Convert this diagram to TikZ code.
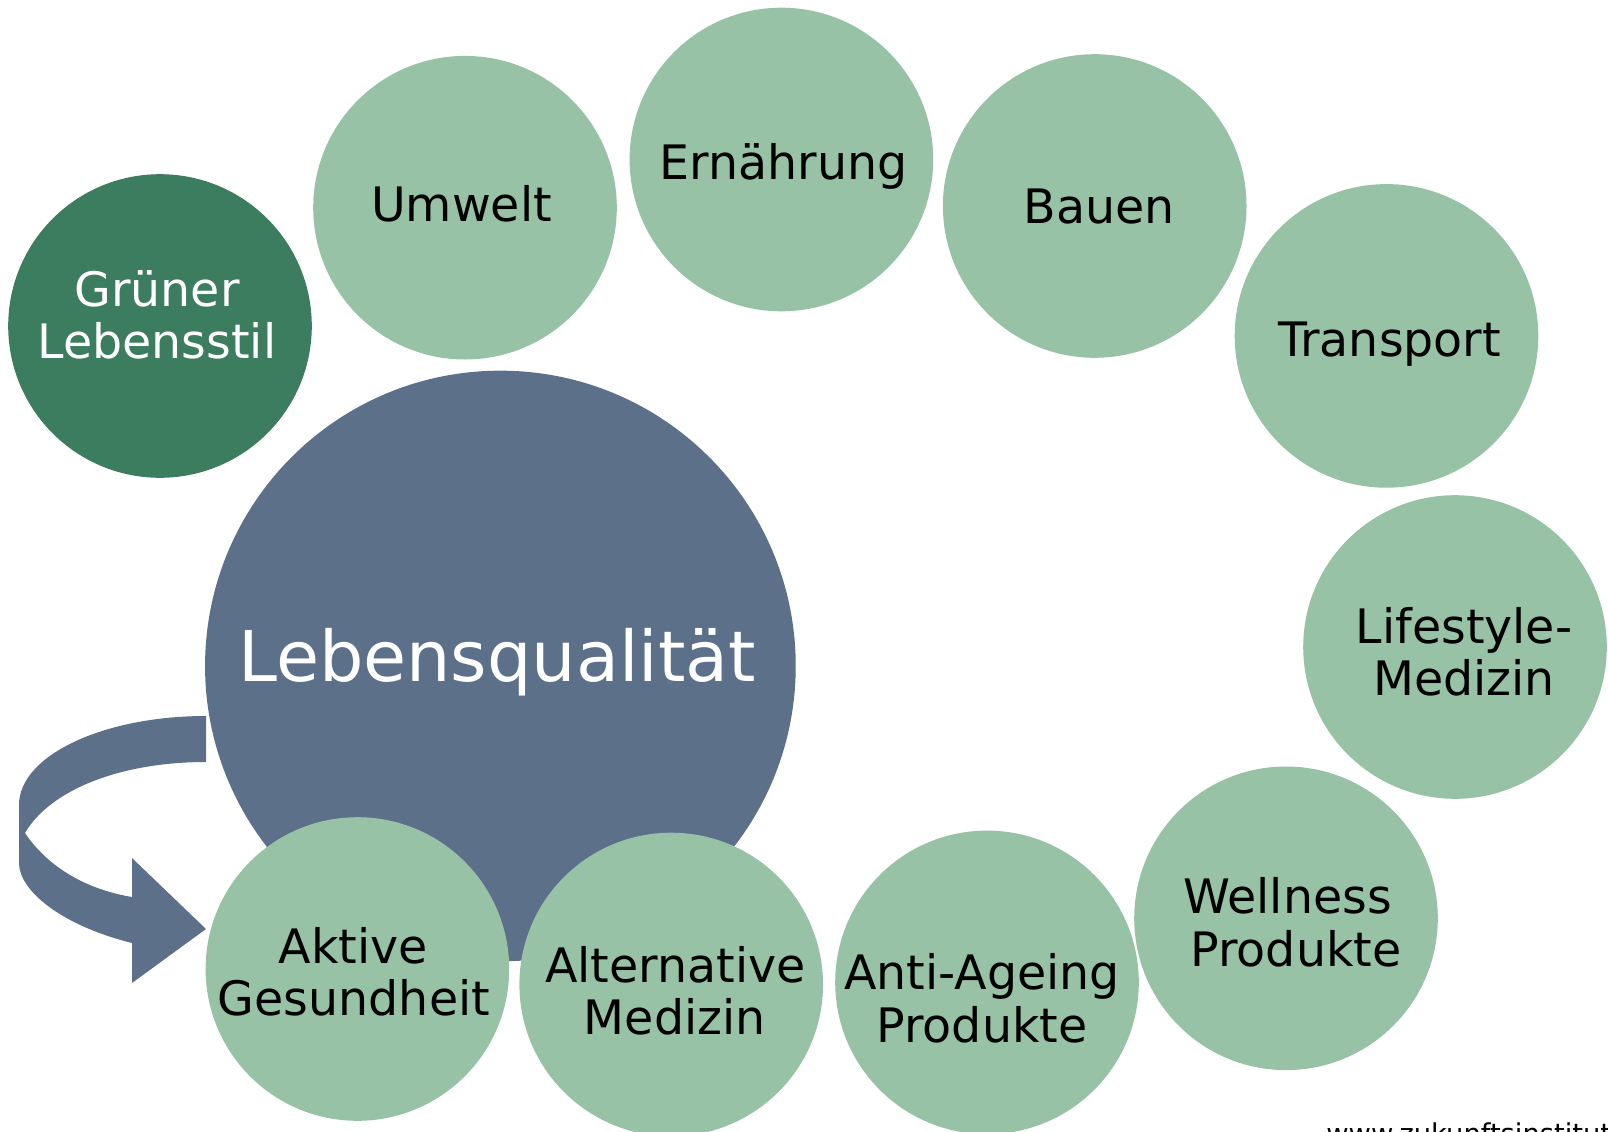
\documentclass[tikz,border=0pt]{standalone}
\usepackage{fontspec}
\setmainfont{DejaVu Sans}
\definecolor{lg}{HTML}{97C2A6}
\definecolor{dg}{HTML}{3B7D5E}
\definecolor{bg}{HTML}{5D708A}
\begin{document}
\begin{tikzpicture}[x=0.75pt,y=-0.75pt,
  smallc/.style={circle,fill=lg,minimum size=227.7pt,inner sep=0pt},
  lbl/.style={anchor=base,font=\fontsize{35.6}{39}\selectfont,inner sep=0pt,text=black},
  wlbl/.style={lbl,text=white}]
\useasboundingbox (0,0) rectangle (1608,1131);
% curved arrow
\coordinate (o1) at (206,716);
\coordinate (tip) at (206,929);
\fill[bg] (o1) .. controls (102.7,716) and (19,755.8) .. (19,805)
  -- (19,863) .. controls (19,890) and (60,925) .. (132,943)
  -- (132,983) -- (tip) -- (132,858) -- (132,897)
  .. controls (90,890) and (50,870) .. (25,833)
  .. controls (50,790) and (120,762) .. (206,762) -- cycle;
% big circle
\node[circle,fill=bg,minimum size=443pt,inner sep=0pt] (lq) at (500.4,666) {};
\node[anchor=base,font=\fontsize{52.5}{56}\selectfont,inner sep=0pt,text=white] (lqt) at (497,681) {Lebensqualität};
% circles
\node[smallc,fill=dg] (gl) at (160,326) {};
\node[smallc] (um) at (465,207.7) {};
\node[smallc] (er) at (781.4,159.5) {};
\node[smallc] (ba) at (1094.7,206) {};
\node[smallc] (tr) at (1386.5,335.9) {};
\node[smallc] (lm) at (1455,647) {};
\node[smallc] (wp) at (1286,918.3) {};
\node[smallc] (ap) at (987,982.4) {};
\node[smallc] (am) at (671.2,984.5) {};
\node[smallc] (ag) at (357.4,969) {};
% labels
\node[wlbl] (gl1) at (157,306.7) {Grüner};
\node[wlbl] (gl2) at (157,358) {Lebensstil};
\node[lbl] (umt) at (461.5,221.5) {Umwelt};
\node[lbl] (ert) at (783.5,179.3) {Ernährung};
\node[lbl] (bat) at (1099,223.5) {Bauen};
\node[lbl] (trt) at (1389.6,356) {Transport};
\node[lbl] (lm1) at (1464,643) {Lifestyle-};
\node[lbl] (lm2) at (1464,695) {Medizin};
\node[lbl] (wp1) at (1287.5,913.7) {Wellness};
\node[lbl] (wp2) at (1296,966) {Produkte};
\node[lbl] (ap1) at (982,989.6) {Anti-Ageing};
\node[lbl] (ap2) at (982,1042) {Produkte};
\node[lbl] (am1) at (675.3,982.4) {Alternative};
\node[lbl] (am2) at (674.8,1034.7) {Medizin};
\node[lbl] (ag1) at (353.5,963) {Aktive};
\node[lbl] (ag2) at (354,1015) {Gesundheit};
\node[anchor=base west,font=\fontsize{20.5}{24}\selectfont,inner sep=0pt] (url) at (1326,1143) {www.zukunftsinstitut.de};
\end{tikzpicture}
\end{document}
